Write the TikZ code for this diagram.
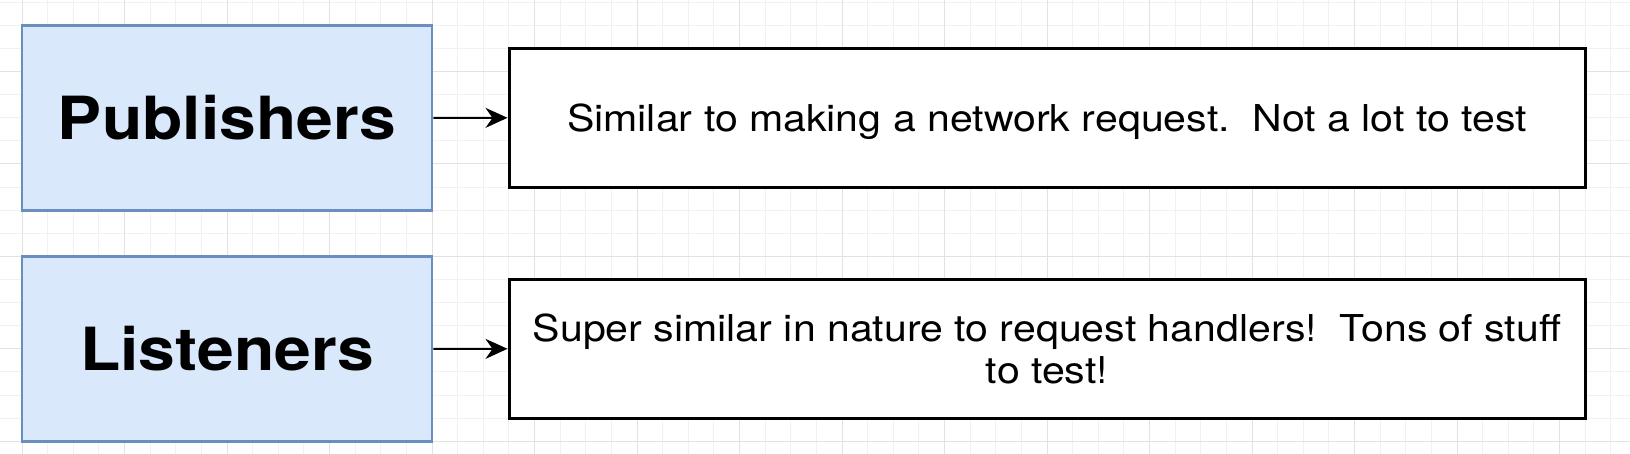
\documentclass[tikz,border=0pt]{standalone}
\usepackage{fontspec}
\setmainfont{TeX Gyre Heros}
\usepackage{graphicx}
\usetikzlibrary{arrows.meta}
\definecolor{boxfill}{HTML}{DAE8FC}
\definecolor{boxline}{HTML}{6C8EBF}
\definecolor{gridminor}{HTML}{F1F1F1}
\definecolor{gridmajor}{HTML}{E2E2E2}
\begin{document}
\begin{tikzpicture}[x=1pt,y=-1pt,
  catbox/.style={draw=boxline, fill=boxfill, line width=2.5pt, minimum width=410pt, minimum height=185pt, inner sep=0pt, font=\fontsize{59.5}{70}\selectfont\bfseries, text height=42.8pt, text depth=0pt},
  descbox/.style={draw=black, fill=white, line width=3pt, minimum width=1076pt, minimum height=138.5pt, inner sep=0pt, font=\fontsize{37}{42}\selectfont},
  link/.style={line width=2pt, -{Stealth[length=22pt,width=20pt,inset=7pt]}}]
\useasboundingbox (0,0) rectangle (1630,454);
\fill[white] (0,0) rectangle (1630,454);
% grid
\foreach \k in {-1,...,63}{\draw[gridminor, line width=1pt] ({22+25.625*\k},0) -- ({22+25.625*\k},454);}
\foreach \k in {0,...,19}{\draw[gridminor, line width=1pt] (0,{2.3+23.1*\k}) -- (1630,{2.3+23.1*\k});}
\foreach \k in {-1,...,16}{\draw[gridmajor, line width=1pt] ({22+102.5*\k},0) -- ({22+102.5*\k},454);}
\foreach \k in {-1,...,4}{\draw[gridmajor, line width=1pt] (0,{71.6+92.4*\k}) -- (1630,{71.6+92.4*\k});}
% boxes
\node[catbox] (pub) at (227,118) {\scalebox{1.11}[1]{Publishers}};
\node[catbox] (lis) at (227,349) {\scalebox{1.11}[1]{Listeners}};
\node[descbox, text height=26.6pt, text depth=0pt] (d1) at (1047,117.8) {\scalebox{1.11}[1]{Similar to making a network request.\ \ Not a lot to test}};
\node[descbox, text height=68.6pt, text depth=0pt] (d2) at (1047,348.8) {\scalebox{1.11}[1]{\begin{tabular}[b]{@{}c@{}}Super similar in nature to request handlers!\ \ Tons of stuff\\to test!\end{tabular}}};
% connectors
\draw[link] (pub.east) -- (d1.west);
\draw[link] (lis.east) -- (d2.west);
\end{tikzpicture}
\end{document}
